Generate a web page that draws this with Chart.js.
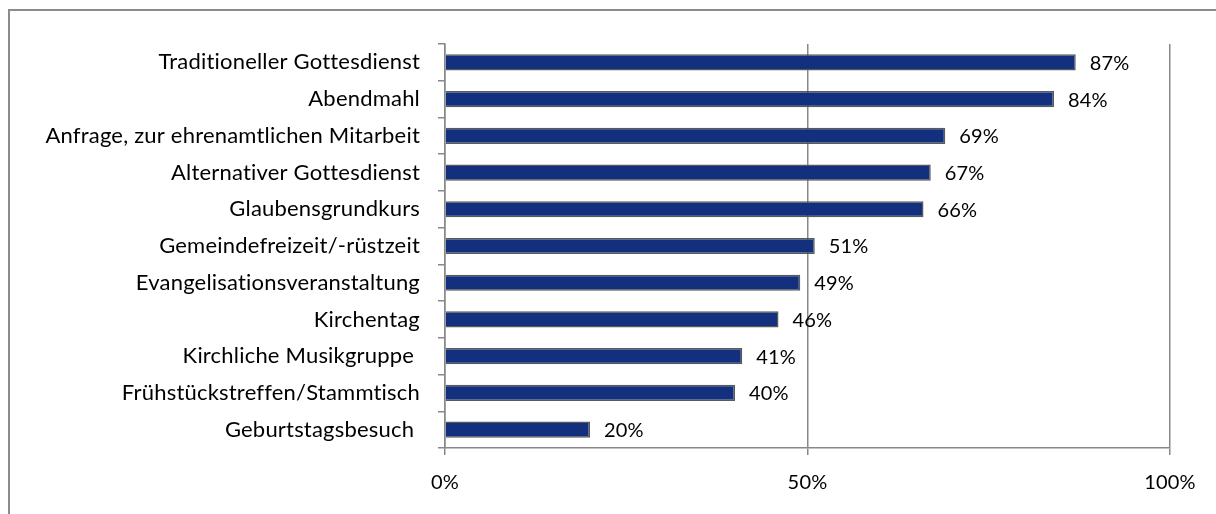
<!DOCTYPE html>
<html>
<head>
<meta charset="utf-8">
<script src="https://cdn.jsdelivr.net/npm/chart.js@4"></script>
<style>
    html, body { margin: 0; padding: 0; background: #fff; overflow: hidden; }
    #wrap { position: relative; width: 1216px; height: 514px; }
    #frame {
        position: absolute; left: 8px; top: 9px; right: -10px; bottom: -10px;
        border-left: 2px solid #8c8c8c; border-top: 2px solid #8c8c8c;
    }
    #chart { position: absolute; left: 0; top: 0; }
</style>
</head>
<body>
<div id="wrap">
    <div id="frame"></div>
    <canvas id="chart" width="1216" height="514"></canvas>
</div>
<script>
// Survey answers, share of respondents in percent
const categories = [
    "Traditioneller Gottesdienst",
    "Abendmahl",
    "Anfrage, zur ehrenamtlichen Mitarbeit",
    "Alternativer Gottesdienst",
    "Glaubensgrundkurs",
    "Gemeindefreizeit/-rüstzeit",
    "Evangelisationsveranstaltung",
    "Kirchentag",
    "Kirchliche Musikgruppe ",
    "Frühstückstreffen/Stammtisch",
    "Geburtstagsbesuch "
];
const values = [87, 84, 69, 67, 66, 51, 49, 46, 41, 40, 20];
const xTicks = [0, 50, 100];

const FONT = "Lato, 'DejaVu Sans', sans-serif";

// A little letter spacing keeps Lato from joining "ti" into a ligature
const spacing = {
    id: "spacing",
    beforeDraw(chart) {
        chart.ctx.letterSpacing = "0.2px";
    }
};

// Writes the percentage to the right of each bar
const valueLabels = {
    id: "valueLabels",
    afterDatasetsDraw(chart) {
        const ctx = chart.ctx;
        const meta = chart.getDatasetMeta(0);
        ctx.save();
        ctx.font = "20px " + FONT;
        ctx.fillStyle = "#000";
        ctx.textAlign = "left";
        ctx.textBaseline = "middle";
        meta.data.forEach((bar, i) => {
            ctx.fillText(values[i] + "%", bar.x + 14, bar.y + 1);
        });
        ctx.restore();
    }
};

function renderChart() {
    const ctx = document.getElementById("chart").getContext("2d");
    new Chart(ctx, {
        type: "bar",
        data: {
            labels: categories,
            datasets: [{
                data: values,
                backgroundColor: "#12307e",
                borderColor: "#5a5a5a",
                borderWidth: 1.5,
                borderSkipped: "start",
                barPercentage: 0.44,
                categoryPercentage: 1
            }]
        },
        options: {
            indexAxis: "y",
            responsive: false,
            animation: false,
            layout: { padding: { left: 0, top: 44, right: 46, bottom: 0 } },
            plugins: {
                legend: { display: false },
                tooltip: { enabled: false }
            },
            scales: {
                x: {
                    min: 0,
                    max: 100,
                    afterBuildTicks(scale) {
                        scale.ticks = xTicks.map((v) => ({ value: v }));
                    },
                    afterFit(scale) { scale.height = 66; },
                    border: { display: true, color: "#888", width: 1.5 },
                    grid: {
                        color: "#888",
                        lineWidth: 1.5,
                        tickLength: 7,
                        drawTicks: true
                    },
                    ticks: {
                        padding: 16,
                        color: "#000",
                        font: { family: FONT, size: 20 },
                        callback: (v) => v + "%"
                    }
                },
                y: {
                    afterFit(scale) { scale.width = 445; },
                    border: { display: true, color: "#888", width: 1.5 },
                    grid: {
                        offset: true,
                        drawOnChartArea: false,
                        color: "#888",
                        lineWidth: 1.5,
                        tickLength: 7
                    },
                    ticks: {
                        padding: 18,
                        color: "#000",
                        font: { family: FONT, size: 22 }
                    }
                }
            }
        },
        plugins: [spacing, valueLabels]
    });
}

renderChart();
</script>
</body>
</html>
